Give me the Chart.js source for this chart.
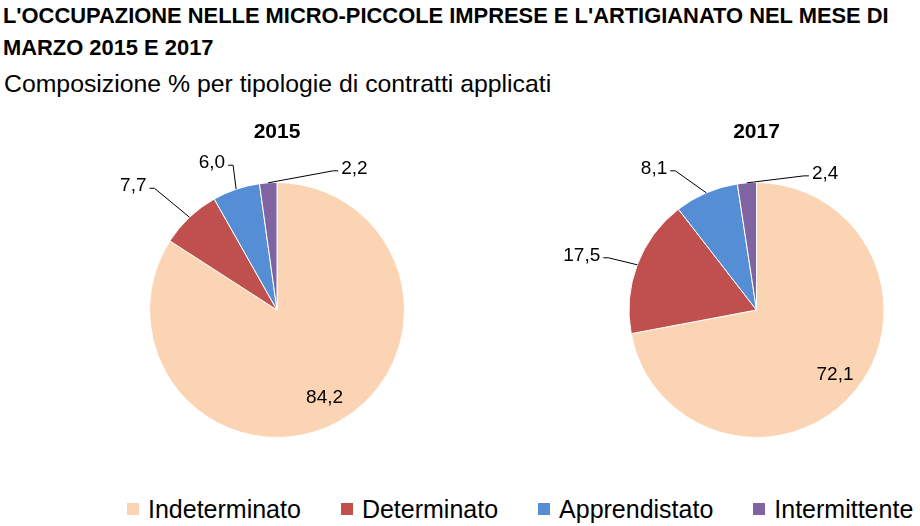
<!DOCTYPE html>
<html>
<head>
<meta charset="utf-8">
<script src="https://cdn.jsdelivr.net/npm/chart.js@4.4.1/dist/chart.umd.min.js"></script>
<style>
  body { margin: 0; background: #fff; width: 920px; height: 526px; overflow: hidden; position: relative;
         font-family: "Liberation Sans", sans-serif; color: #000; }
  #title { position: absolute; left: 3px; top: 0px; font-weight: bold; font-size: 21.9px; line-height: 32px; white-space: nowrap; }
  #subtitle { position: absolute; left: 4px; top: 70px; font-size: 24.8px; white-space: nowrap; }
  .box { position: absolute; top: 110px; width: 460px; height: 360px; }
  #legend { position: absolute; top: 494px; left: 127px; display: flex; font-size: 25px; line-height: 30px; }
  #legend span.item { display: flex; align-items: center; margin-right: 40px; }
  #legend span.sw { width: 12px; height: 12px; margin-right: 9px; display: inline-block; }
</style>
</head>
<body>
<div id="title">L'OCCUPAZIONE NELLE MICRO-PICCOLE IMPRESE E L'ARTIGIANATO NEL MESE DI<br>MARZO 2015 E 2017</div>
<div id="subtitle">Composizione % per tipologie di contratti applicati</div>
<div class="box" style="left:0"><canvas id="c2015"></canvas></div>
<div class="box" style="left:460px"><canvas id="c2017"></canvas></div>
<div id="legend"></div>
<script>
var categories = ['Indeterminato', 'Determinato', 'Apprendistato', 'Intermittente'];
var values2015 = [84.2, 7.7, 6.0, 2.2];
var values2017 = [72.1, 17.5, 8.1, 2.4];
var colors = ['#FBD4B4', '#C0504D', '#558ED5', '#8064A2'];

function fmt(v){ return v.toFixed(1).replace('.', ','); }

// etichette: fetta grande dentro, le altre fuori con linea guida
var calloutPlugin = {
  id: 'callouts',
  afterDatasetsDraw: function(chart, args, opts){
    var ctx = chart.ctx;
    var meta = chart.getDatasetMeta(0);
    var data = chart.data.datasets[0].data;
    ctx.save();
    ctx.font = '19px "Liberation Sans", sans-serif';
    ctx.fillStyle = '#000';
    ctx.strokeStyle = '#000';
    ctx.lineWidth = 1;
    ctx.textBaseline = 'middle';
    meta.data.forEach(function(arc, i){
      var p = arc.getProps(['x','y','startAngle','endAngle','outerRadius'], true);
      var mid = (p.startAngle + p.endAngle) / 2;
      var txt = fmt(data[i]);
      var off = opts.offsets[i];
      if (!off) {
        var f = opts.inner;
        ctx.textAlign = 'center';
        ctx.fillText(txt, p.x + Math.cos(mid) * p.outerRadius * f, p.y + Math.sin(mid) * p.outerRadius * f);
        return;
      }
      var ax = p.x + Math.cos(mid) * p.outerRadius;
      var ay = p.y + Math.sin(mid) * p.outerRadius;
      var ex = ax + off[0], ey = ay + off[1];
      var dir = off[0] > 0 ? 1 : -1;
      ctx.beginPath();
      ctx.moveTo(ax, ay);
      ctx.lineTo(ex, ey);
      ctx.lineTo(ex + dir * 5, ey);
      ctx.stroke();
      ctx.textAlign = dir > 0 ? 'left' : 'right';
      ctx.fillText(txt, ex + dir * 8, ey - 2);
    });
    ctx.restore();
  }
};

function makePie(id, year, values, padding, offsets, inner){
  return new Chart(document.getElementById(id), {
    type: 'pie',
    data: {
      labels: categories,
      datasets: [{ data: values, backgroundColor: colors, borderColor: '#fff', borderWidth: 1 }]
    },
    options: {
      responsive: true,
      maintainAspectRatio: false,
      animation: false,
      layout: { padding: padding },
      plugins: {
        legend: { display: false },
        tooltip: { enabled: false },
        title: {
          display: true, text: year, color: '#000',
          font: { family: '"Liberation Sans", sans-serif', size: 21, weight: 'bold', lineHeight: 1.2 },
          padding: { top: 10, bottom: 36.8 }
        },
        callouts: { offsets: offsets, inner: inner }
      }
    },
    plugins: [calloutPlugin]
  });
}

makePie('c2015', '2015', values2015, { left: 149, right: 55, top: 0, bottom: 32 },
  [null, [-35, -29], [-3, -24], [65, -12]], 0.78);
makePie('c2017', '2017', values2017, { left: 168, right: 35, top: 0, bottom: 32 },
  [null, [-29, -7], [-31, -22], [57, -7]], 0.8);

var legend = document.getElementById('legend');
categories.forEach(function(c, i){
  var item = document.createElement('span');
  item.className = 'item';
  var sw = document.createElement('span');
  sw.className = 'sw';
  sw.style.background = colors[i];
  item.appendChild(sw);
  item.appendChild(document.createTextNode(c));
  legend.appendChild(item);
});
</script>
</body>
</html>
